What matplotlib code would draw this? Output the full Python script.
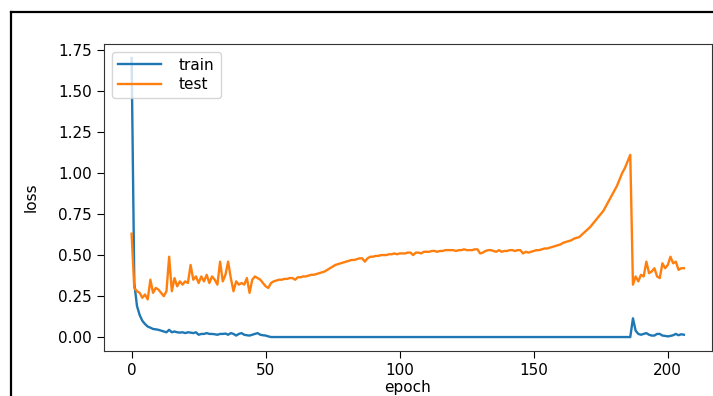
import numpy as np
import matplotlib
matplotlib.use('Agg')
import matplotlib.pyplot as plt
from matplotlib.lines import Line2D

# loss per epoch
train_loss = [
    1.70, 0.33, 0.19, 0.135, 0.10, 0.08, 0.065, 0.058, 0.05, 0.048,
    0.045, 0.04, 0.035, 0.03, 0.045, 0.03, 0.035, 0.03, 0.028, 0.03,
    0.025, 0.03, 0.028, 0.025, 0.03, 0.015, 0.02, 0.02, 0.025, 0.02,
    0.02, 0.018, 0.015, 0.02, 0.02, 0.022, 0.015, 0.025, 0.02, 0.01,
    0.02, 0.025, 0.015, 0.012, 0.01, 0.015, 0.02, 0.025, 0.015, 0.012,
    0.01, 0.005,
    0.001, 0.001, 0.001, 0.001, 0.001, 0.001, 0.001, 0.001, 0.001, 0.001,
    0.001, 0.001, 0.001, 0.001, 0.001, 0.001, 0.001, 0.001, 0.001, 0.001,
    0.001, 0.001, 0.001, 0.001, 0.001, 0.001, 0.001, 0.001, 0.001, 0.001,
    0.001, 0.001, 0.001, 0.001, 0.001, 0.001, 0.001, 0.001, 0.001, 0.001,
    0.001, 0.001, 0.001, 0.001, 0.001, 0.001, 0.001, 0.001, 0.001, 0.001,
    0.001, 0.001, 0.001, 0.001, 0.001, 0.001, 0.001, 0.001, 0.001, 0.001,
    0.001, 0.001, 0.001, 0.001, 0.001, 0.001, 0.001, 0.001, 0.001, 0.001,
    0.001, 0.001, 0.001, 0.001, 0.001, 0.001, 0.001, 0.001, 0.001, 0.001,
    0.001, 0.001, 0.001, 0.001, 0.001, 0.001, 0.001, 0.001, 0.001, 0.001,
    0.001, 0.001, 0.001, 0.001, 0.001, 0.001, 0.001, 0.001, 0.001, 0.001,
    0.001, 0.001, 0.001, 0.001, 0.001, 0.001, 0.001, 0.001, 0.001, 0.001,
    0.001, 0.001, 0.001, 0.001, 0.001, 0.001, 0.001, 0.001, 0.001, 0.001,
    0.001, 0.001, 0.001, 0.001, 0.001, 0.001, 0.001, 0.001, 0.001, 0.001,
    0.001, 0.001, 0.001, 0.001, 0.001,
    0.115, 0.04, 0.02, 0.015, 0.02, 0.025, 0.015, 0.01, 0.01, 0.02,
    0.02, 0.01, 0.008, 0.005, 0.008, 0.012, 0.02, 0.012, 0.018, 0.015,
]

test_loss = [
    0.63, 0.30, 0.28, 0.27, 0.24, 0.26, 0.23, 0.35, 0.27, 0.30,
    0.29, 0.27, 0.25, 0.28, 0.49, 0.28, 0.36, 0.31, 0.34, 0.32,
    0.34, 0.33, 0.44, 0.35, 0.37, 0.33, 0.37, 0.34, 0.38, 0.33,
    0.37, 0.35, 0.32, 0.46, 0.34, 0.38, 0.46, 0.36, 0.28, 0.34,
    0.32, 0.33, 0.32, 0.36, 0.27, 0.35, 0.37, 0.36, 0.35, 0.33,
    0.31, 0.30, 0.33, 0.34, 0.345, 0.35, 0.35, 0.355, 0.355, 0.36,
    0.36, 0.35, 0.365, 0.365, 0.37, 0.37, 0.375, 0.38, 0.38, 0.385,
    0.39, 0.395, 0.40, 0.41, 0.42, 0.43, 0.44, 0.445, 0.45, 0.455,
    0.46, 0.465, 0.47, 0.47, 0.475, 0.48, 0.48, 0.46, 0.48, 0.49,
    0.49, 0.495, 0.495, 0.50, 0.50, 0.50, 0.505, 0.505, 0.51, 0.505,
    0.51, 0.51, 0.51, 0.515, 0.515, 0.50, 0.515, 0.515, 0.51, 0.52,
    0.52, 0.52, 0.525, 0.525, 0.52, 0.525, 0.525, 0.53, 0.53, 0.53,
    0.53, 0.525, 0.53, 0.53, 0.535, 0.53, 0.53, 0.53, 0.535, 0.535,
    0.51, 0.515, 0.525, 0.53, 0.53, 0.525, 0.52, 0.53, 0.52, 0.525,
    0.525, 0.53, 0.53, 0.525, 0.53, 0.53, 0.51, 0.52, 0.515, 0.52,
    0.525, 0.53, 0.53, 0.535, 0.54, 0.54, 0.545, 0.55, 0.555, 0.56,
    0.565, 0.575, 0.58, 0.585, 0.59, 0.60, 0.605, 0.61, 0.625, 0.64,
    0.655, 0.67, 0.69, 0.71, 0.73, 0.75, 0.77, 0.80, 0.83, 0.86,
    0.89, 0.92, 0.96, 1.00, 1.03, 1.07, 1.11, 0.32, 0.37, 0.34,
    0.38, 0.37, 0.46, 0.39, 0.40, 0.42, 0.37, 0.36, 0.45, 0.42,
    0.44, 0.49, 0.45, 0.46, 0.41, 0.42, 0.42,
]

epochs = np.arange(len(train_loss))

fig = plt.figure(figsize=(7.13, 3.96), dpi=100)
ax = fig.add_axes([104 / 713, 1 - 351 / 396, 607.5 / 713, 307 / 396])

ax.plot(epochs, train_loss, label='train', lw=1.7)
ax.plot(epochs, test_loss, label='test', lw=1.7)

ax.set_xlabel('epoch', fontsize=11)
ax.set_ylabel('loss', fontsize=11)
ax.xaxis.set_label_coords(0.5, -0.095)
ax.yaxis.set_label_coords(-0.108, 0.5)
ax.tick_params(labelsize=11, length=5)
ax.set_yticks([0.0, 0.25, 0.5, 0.75, 1.0, 1.25, 1.5, 1.75])
for s in ax.spines.values():
    s.set_color('#333333')
ax.legend(loc='upper left', fontsize=11, handlelength=2.8,
          handletextpad=1.2, labelspacing=0.3)

# black frame of the screenshot (left and top edges)
fig.add_artist(Line2D([10.5 / 713, 10.5 / 713], [0, 1 - 11.5 / 396],
                      transform=fig.transFigure, color='black', lw=1.6))
fig.add_artist(Line2D([10.5 / 713, 1], [1 - 11.5 / 396, 1 - 11.5 / 396],
                      transform=fig.transFigure, color='black', lw=1.6))

fig.savefig('out.png', dpi=100)
